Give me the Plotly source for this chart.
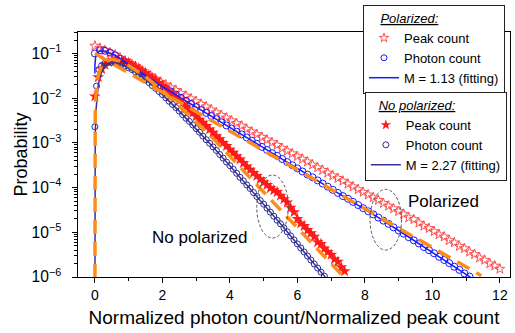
import plotly.graph_objects as go

FONT = "Liberation Sans, Arial, sans-serif"

# ---------------- data (probabilities stored as log10 values) ----------------
pol_photon_x = [0, 0.15, 0.3, 0.45, 0.6, 0.75, 0.9, 1.05, 1.2, 1.35, 1.5, 1.65, 1.8, 1.95, 2.1, 2.25, 2.4,
                2.55, 2.7, 2.85, 3.0, 3.15, 3.3, 3.45, 3.6, 3.75, 3.9, 4.05, 4.2, 4.35, 4.5, 4.65, 4.8, 4.95,
                5.1, 5.25, 5.4, 5.55, 5.7, 5.85, 6.0, 6.15, 6.3, 6.45, 6.6, 6.75, 6.9, 7.05, 7.2, 7.35, 7.5,
                7.65, 7.8, 7.95, 8.1, 8.25, 8.4, 8.55, 8.7, 8.85, 9.0, 9.15, 9.3, 9.45, 9.6, 9.75, 9.9, 10.05,
                10.2, 10.35, 10.5, 10.65, 10.8, 10.95, 11.1]
pol_photon_log = [-1.00, -0.93, -0.94, -0.98, -1.04, -1.12, -1.19, -1.27, -1.34, -1.42, -1.49, -1.57, -1.64,
                  -1.72, -1.79, -1.85, -1.92, -1.99, -2.06, -2.13, -2.20, -2.27, -2.33, -2.40, -2.47, -2.54,
                  -2.61, -2.68, -2.75, -2.81, -2.88, -2.95, -3.02, -3.09, -3.16, -3.23, -3.29, -3.36, -3.43,
                  -3.50, -3.57, -3.64, -3.71, -3.77, -3.84, -3.91, -3.98, -4.05, -4.12, -4.19, -4.25, -4.32,
                  -4.39, -4.46, -4.53, -4.60, -4.67, -4.74, -4.81, -4.89, -4.96, -5.03, -5.11, -5.18, -5.25,
                  -5.33, -5.40, -5.47, -5.55, -5.62, -5.69, -5.77, -5.84, -5.92, -5.99]

pol_peak_x = [0, 0.15, 0.3, 0.45, 0.6, 0.75, 0.9, 1.05, 1.2, 1.35, 1.5, 1.65, 1.8, 1.95, 2.1, 2.25, 2.4,
              2.55, 2.7, 2.85, 3.0, 3.15, 3.3, 3.45, 3.6, 3.75, 3.9, 4.05, 4.2, 4.35, 4.5, 4.65, 4.8, 4.95,
              5.1, 5.25, 5.4, 5.55, 5.7, 5.85, 6.0, 6.15, 6.3, 6.45, 6.6, 6.75, 6.9, 7.05, 7.2, 7.35, 7.5,
              7.65, 7.8, 7.95, 8.1, 8.25, 8.4, 8.55, 8.7, 8.85, 9.0, 9.15, 9.3, 9.45, 9.6, 9.75, 9.9, 10.05,
              10.2, 10.35, 10.5, 10.65, 10.8, 10.95, 11.1, 11.25, 11.4, 11.55, 11.7, 11.85, 12.0]
pol_peak_log = [-0.83, -0.88, -0.93, -0.98, -1.03, -1.10, -1.17, -1.23, -1.30, -1.37, -1.44, -1.50, -1.57,
                -1.64, -1.70, -1.76, -1.82, -1.89, -1.95, -2.01, -2.07, -2.13, -2.19, -2.26, -2.32, -2.38,
                -2.44, -2.50, -2.56, -2.62, -2.69, -2.75, -2.81, -2.87, -2.93, -2.99, -3.05, -3.12, -3.18,
                -3.24, -3.30, -3.36, -3.42, -3.49, -3.55, -3.61, -3.67, -3.73, -3.79, -3.85, -3.92, -3.98,
                -4.04, -4.10, -4.16, -4.22, -4.28, -4.35, -4.41, -4.47, -4.53, -4.59, -4.67, -4.71, -4.79,
                -4.86, -4.91, -4.98, -5.05, -5.10, -5.18, -5.23, -5.31, -5.36, -5.44, -5.49, -5.57, -5.62,
                -5.70, -5.75, -5.82]

pol_fit_x = [0, 0.002, 0.03, 0.15, 0.3, 0.6, 1.0, 2.0, 3.0, 4.0, 5.0, 6.0, 7.0, 8.0, 8.4, 9.0, 10.0, 11.0, 11.3]
pol_fit_log = [-1.45, -1.25, -1.02, -0.94, -0.95, -1.04, -1.24, -1.74, -2.20, -2.65, -3.11, -3.57, -4.03,
               -4.48, -4.67, -4.96, -5.45, -5.94, -6.09]

nopol_photon_x = [0, 0.05, 0.12, 0.2, 0.3, 0.4, 0.5, 0.6, 0.7, 0.8, 0.9, 1.0, 1.1, 1.2, 1.3, 1.4, 1.5, 1.6,
                  1.7, 1.8, 1.9, 2.0, 2.1, 2.2, 2.3, 2.4, 2.5, 2.6, 2.7, 2.8, 2.9, 3.0, 3.1, 3.2, 3.3, 3.4,
                  3.5, 3.6, 3.7, 3.8, 3.9, 4.0, 4.1, 4.2, 4.3, 4.4, 4.5, 4.6, 4.7, 4.8, 4.9, 5.0, 5.1, 5.2,
                  5.3, 5.4, 5.5, 5.6, 5.7, 5.8, 5.9, 6.0, 6.1, 6.2, 6.3, 6.4, 6.5, 6.6, 6.7, 6.8]
nopol_photon_log = [-2.64, -1.73, -1.36, -1.27, -1.22, -1.20, -1.20, -1.20, -1.22, -1.24, -1.28, -1.32,
                    -1.36, -1.41, -1.47, -1.53, -1.59, -1.65, -1.72, -1.78, -1.85, -1.92, -1.99, -2.07,
                    -2.14, -2.21, -2.29, -2.37, -2.45, -2.52, -2.60, -2.68, -2.76, -2.85, -2.93, -3.01,
                    -3.09, -3.17, -3.26, -3.34, -3.43, -3.51, -3.59, -3.68, -3.77, -3.85, -3.94, -4.02,
                    -4.11, -4.20, -4.29, -4.37, -4.46, -4.55, -4.64, -4.73, -4.81, -4.90, -4.99, -5.08,
                    -5.17, -5.26, -5.35, -5.44, -5.53, -5.62, -5.71, -5.80, -5.89, -5.98]

nopol_peak_x = [0, 0.1, 0.2, 0.3, 0.4, 0.5, 0.6, 0.7, 0.8, 0.9, 1.0, 1.1, 1.2, 1.3, 1.4, 1.5, 1.6, 1.7,
                1.8, 1.9, 2.0, 2.1, 2.2, 2.3, 2.4, 2.5, 2.6, 2.7, 2.8, 2.9, 3.0, 3.1, 3.2, 3.3, 3.4, 3.5,
                3.6, 3.7, 3.8, 3.9, 4.0, 4.1, 4.2, 4.3, 4.4, 4.5, 4.6, 4.7, 4.8, 4.9, 5.0, 5.1, 5.2, 5.3,
                5.4, 5.5, 5.6, 5.7, 5.8, 5.9, 6.0, 6.1, 6.2, 6.3, 6.4, 6.5, 6.6, 6.7, 6.8, 6.9, 7.0, 7.1,
                7.2, 7.3, 7.4]
nopol_peak_log = [-1.96, -1.53, -1.35, -1.25, -1.19, -1.16, -1.15, -1.15, -1.16, -1.18, -1.21, -1.25,
                  -1.29, -1.34, -1.39, -1.44, -1.49, -1.55, -1.60, -1.66, -1.72, -1.78, -1.85, -1.92,
                  -1.98, -2.05, -2.12, -2.19, -2.26, -2.33, -2.41, -2.48, -2.55, -2.62, -2.70, -2.77,
                  -2.85, -2.92, -3.00, -3.07, -3.15, -3.22, -3.30, -3.37, -3.45, -3.53, -3.60, -3.67,
                  -3.74, -3.81, -3.88, -3.94, -4.01, -4.06, -4.10, -4.18, -4.26, -4.33, -4.45, -4.55,
                  -4.70, -4.80, -4.86, -4.95, -5.02, -5.10, -5.22, -5.26, -5.36, -5.44, -5.50, -5.60,
                  -5.66, -5.78, -5.87]

nopol_fit_x = [0, 0.001, 0.01, 0.03, 0.06, 0.1, 0.15, 0.2, 0.3, 0.4, 0.5, 0.7, 1.0, 1.3, 1.6, 2.0, 2.5,
               3.0, 3.5, 4.0, 4.5, 5.0, 5.5, 6.0, 6.5, 7.0]
nopol_fit_log = [-7.0, -4.14, -2.88, -2.30, -1.94, -1.70, -1.53, -1.42, -1.29, -1.23, -1.21, -1.22, -1.32,
                 -1.47, -1.65, -1.92, -2.29, -2.68, -3.09, -3.51, -3.94, -4.37, -4.81, -5.26, -5.71, -6.16]

ref_pol_x = [0, 11.45]
ref_pol_log = [-1.0, -5.97]
ref_nopol_x = [0, 0.001, 0.01, 0.03, 0.05, 0.1, 0.2, 0.3, 0.5, 0.75, 1.0, 1.5, 2.0, 2.5, 3.0, 3.5, 4.0,
               4.5, 5.0, 5.5, 6.0, 6.5, 7.0, 7.35]
ref_nopol_log = [-7.0, -3.40, -2.41, -1.94, -1.74, -1.49, -1.27, -1.18, -1.13, -1.17, -1.27, -1.52, -1.83,
                 -2.17, -2.53, -2.90, -3.30, -3.69, -4.09, -4.50, -4.90, -5.30, -5.70, -5.98]

x_ticks = [0, 2, 4, 6, 8, 10, 12]


def p(logs):
    return [10 ** v for v in logs]


RED = "#ff1a1a"
PINK = "#ff5050"
BLUE = "#1a1aff"
NAVY = "#2a2a8c"
NAVY_LINE = "#34349a"
ORANGE = "#ff8c1a"

fig = go.Figure()

# data traces (legend entries are drawn by the small-marker proxies below)
fig.add_trace(go.Scatter(x=pol_peak_x, y=p(pol_peak_log), mode="markers", showlegend=False,
                         marker=dict(symbol="star-open", size=7.5, color=PINK, line=dict(width=1, color=PINK))))
fig.add_trace(go.Scatter(x=pol_photon_x, y=p(pol_photon_log), mode="markers", showlegend=False,
                         marker=dict(symbol="circle-open", size=7, color=BLUE, line=dict(width=1, color=BLUE))))
fig.add_trace(go.Scatter(x=nopol_peak_x, y=p(nopol_peak_log), mode="markers", showlegend=False,
                         marker=dict(symbol="star", size=9, color=RED, line=dict(width=0))))
fig.add_trace(go.Scatter(x=nopol_photon_x, y=p(nopol_photon_log), mode="markers", showlegend=False,
                         marker=dict(symbol="circle-open", size=6, color=NAVY, line=dict(width=1, color=NAVY))))
fig.add_trace(go.Scatter(x=pol_fit_x, y=p(pol_fit_log), mode="lines", showlegend=False,
                         line=dict(color=BLUE, width=1.5)))
fig.add_trace(go.Scatter(x=nopol_fit_x, y=p(nopol_fit_log), mode="lines", showlegend=False,
                         line=dict(color=NAVY_LINE, width=1.5)))
fig.add_trace(go.Scatter(x=ref_pol_x, y=p(ref_pol_log), mode="lines", showlegend=False,
                         line=dict(color=ORANGE, width=3.5, dash="14px,8px")))
fig.add_trace(go.Scatter(x=ref_nopol_x, y=p(ref_nopol_log), mode="lines", showlegend=False,
                         line=dict(color=ORANGE, width=3.5, dash="14px,8px")))

# legend proxies
fig.add_trace(go.Scatter(x=[None], y=[None], mode="markers", name="Peak count", legend="legend",
                         marker=dict(symbol="star-open", size=7, color=PINK, line=dict(width=1, color=PINK))))
fig.add_trace(go.Scatter(x=[None], y=[None], mode="markers", name="Photon count", legend="legend",
                         marker=dict(symbol="circle-open", size=6, color=BLUE, line=dict(width=1, color=BLUE))))
fig.add_trace(go.Scatter(x=[None], y=[None], mode="lines", name="M = 1.13 (fitting)", legend="legend",
                         line=dict(color=BLUE, width=1.5)))
fig.add_trace(go.Scatter(x=[None], y=[None], mode="markers", name="Peak count", legend="legend2",
                         marker=dict(symbol="star", size=8, color=RED, line=dict(width=0))))
fig.add_trace(go.Scatter(x=[None], y=[None], mode="markers", name="Photon count", legend="legend2",
                         marker=dict(symbol="circle-open", size=6, color=NAVY, line=dict(width=1, color=NAVY))))
fig.add_trace(go.Scatter(x=[None], y=[None], mode="lines", name="M = 2.27 (fitting)", legend="legend2",
                         line=dict(color=NAVY_LINE, width=1.5)))

# dashed ellipses (paper coordinates)
for x0, x1, y0, y1 in [(0.4137, 0.4868, 0.159, 0.416), (0.676, 0.749, 0.110, 0.358)]:
    fig.add_shape(type="circle", xref="paper", yref="paper", x0=x0, x1=x1, y0=y0, y1=y1,
                  line=dict(color="#555555", width=1, dash="3px,2px"))

fig.add_annotation(x=3.11, y=-5.11, xref="x", yref="y", text="No polarized", showarrow=False,
                   font=dict(family=FONT, size=17, color="black"))
fig.add_annotation(x=10.33, y=-4.30, xref="x", yref="y", text="Polarized", showarrow=False,
                   font=dict(family=FONT, size=17, color="black"))
# y-axis title placed as rotated text
fig.add_annotation(x=-0.134, y=0.5, xref="paper", yref="paper", text="Probability", textangle=-90,
                   showarrow=False, xanchor="center", yanchor="middle",
                   font=dict(family=FONT, size=18, color="black"))

axis_common = dict(showline=True, linecolor="black", linewidth=1.3, mirror=True, ticks="outside",
                   tickcolor="black", ticklen=5, tickwidth=1.2, showgrid=False, zeroline=False)

legend_common = dict(xanchor="left", yanchor="top", bgcolor="white", bordercolor="#222222",
                     borderwidth=1, font=dict(family=FONT, size=13, color="black"))

fig.update_layout(
    width=515, height=333,
    margin=dict(l=78, r=5, t=32, b=56),
    paper_bgcolor="white", plot_bgcolor="white",
    font=dict(family=FONT, color="black"),
    xaxis=dict(range=[-0.5, 12.3], tickvals=x_ticks,
               tickfont=dict(family=FONT, size=14, color="black"),
               minor=dict(ticks="outside", ticklen=3, tickcolor="black", dtick=1, tick0=0),
               title=dict(text="Normalized photon count/Normalized peak count",
                          font=dict(family=FONT, size=19, color="black"), standoff=8),
               **axis_common),
    yaxis=dict(type="log", range=[-6, -0.52], dtick=1, exponentformat="power",
               tickfont=dict(family=FONT, size=12.5, color="black"), ticklabelstandoff=8,
               minor=dict(ticks="outside", ticklen=3, tickcolor="black"),
               **axis_common),
    legend=dict(x=0.6597, y=1.11, **legend_common,
                title=dict(text="\u00a0\u00a0\u00a0\u00a0<i><u>Polarized:</u></i>",
                           font=dict(family=FONT, size=13, color="black"))),
    legend2=dict(x=0.664, y=0.755, **legend_common,
                 title=dict(text="\u00a0\u00a0\u00a0<i><u>No polarized:</u></i>",
                            font=dict(family=FONT, size=13, color="black"))),
)

fig.write_html("out.html")
